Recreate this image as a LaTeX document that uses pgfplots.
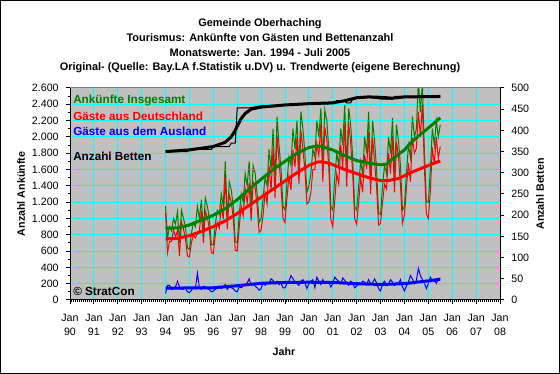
\documentclass[border=0pt]{standalone}
\usepackage{pgfplots}
\pgfplotsset{compat=1.18}
\usepackage{pgfplotstable}
\usepackage{fontspec}
\setmainfont{Liberation Sans}
\definecolor{plotgray}{RGB}{192,192,192}
\definecolor{gcyan}{RGB}{0,255,255}
\definecolor{xlgreen}{RGB}{0,128,0}
\definecolor{xlred}{RGB}{255,0,0}
\definecolor{xlblue}{RGB}{0,0,255}

% months since Jan 1990: m ; G = Ankuenfte gesamt, D = Deutschland, A = Ausland
\pgfplotstableread{
m G D A
48 1150 1070 80
49 760 580 180
50 900 720 180
51 850 720 130
52 1000 860 140
53 930 770 160
54 1080 850 230
55 700 540 160
56 1100 960 140
57 1000 870 130
58 900 750 150
59 640 540 100
60 620 530 90
61 820 700 120
62 950 800 150
63 900 760 140
64 1150 820 330
65 1000 850 150
66 1230 1100 130
67 870 700 170
68 1250 1090 160
69 1150 1010 140
70 1000 870 130
71 680 580 100
72 680 570 110
73 930 800 130
74 1100 950 150
75 1050 880 170
76 1300 1160 140
77 1150 990 160
78 1700 1510 190
79 1000 870 130
80 1450 1290 160
81 1350 1200 150
82 1150 1010 140
83 720 610 110
84 700 600 100
85 1050 890 160
86 1300 1150 150
87 1200 1030 170
88 1550 1360 190
89 1400 1190 210
90 1700 1440 260
91 1150 970 180
92 1650 1450 200
93 1550 1380 170
94 1300 1150 150
95 950 830 120
96 1000 860 140
97 1250 1040 210
98 1500 1320 180
99 1400 1180 220
100 1850 1650 200
101 1600 1340 260
102 2100 1860 240
103 1450 1250 200
104 2250 2020 230
105 1900 1710 190
106 1600 1390 210
107 1150 1000 150
108 1100 950 150
109 1450 1250 200
110 1750 1520 230
111 1650 1350 300
112 2100 1840 260
113 1850 1630 220
114 2200 2000 200
115 1600 1420 180
116 2310 2080 230
117 2100 1850 250
118 1800 1590 210
119 1320 1180 140
120 1400 1200 200
121 1550 1320 230
122 1850 1600 250
123 1750 1600 150
124 2200 1920 280
125 2000 1770 230
126 2350 2160 190
127 1700 1450 250
128 2330 2120 210
129 2200 1970 230
130 1850 1630 220
131 1150 990 160
132 1100 900 200
133 1500 1220 280
134 1800 1550 250
135 1650 1420 230
136 2100 1900 200
137 1900 1630 270
138 2390 2150 240
139 1600 1390 210
140 2350 2170 180
141 2150 1920 230
142 1750 1550 200
143 1150 1000 150
144 1100 930 170
145 1400 1190 210
146 1700 1500 200
147 1550 1320 230
148 2000 1780 220
149 1800 1610 190
150 2310 2060 250
151 1500 1300 200
152 2200 1990 210
153 1950 1690 260
154 1600 1390 210
155 1060 920 140
156 1050 940 110
157 1400 1200 200
158 1650 1420 230
159 1550 1360 190
160 2000 1800 200
161 1800 1550 250
162 2230 2010 220
163 1500 1320 180
164 2150 1940 210
165 1950 1750 200
166 1650 1400 250
167 1100 940 160
168 1150 1040 110
169 1550 1380 170
170 1900 1680 220
171 1750 1450 300
172 2250 1990 260
173 2000 1800 200
174 2100 1860 240
175 2700 2310 390
176 2300 2000 300
177 2650 2400 250
178 1850 1640 210
179 1200 1060 140
180 1200 1000 200
181 1600 1320 280
182 2100 1870 230
183 1900 1660 240
184 2200 2000 200
185 2000 1740 260
186 2150 1880 270
}\monthly

\pgfplotstableread{
m v
48 880
54 885
60 920
66 980
72 1040
78 1120
84 1230
90 1360
96 1480
102 1600
108 1700
114 1800
120 1870
124 1890
126 1885
132 1840
138 1770
144 1710
150 1680
153 1668
156 1660
159 1665
162 1730
168 1840
171 1925
176 2030
181 2130
186 2235
}\trendG

\pgfplotstableread{
m v
48 750
54 755
60 790
66 840
72 900
78 970
84 1060
90 1160
96 1260
102 1360
108 1460
114 1560
120 1650
124 1690
126 1695
130 1680
138 1600
144 1550
150 1500
156 1465
160 1465
165 1490
171 1560
176 1610
181 1660
186 1705
}\trendD

\pgfplotstableread{
m v
48 145
60 148
72 150
84 175
96 205
108 215
120 218
132 215
144 200
156 190
168 200
180 235
186 255
}\trendA

\pgfplotstableread{
m v
48 350
59 350
60 355
71 355
72 362
80 362
81 370
83 370
84 453
90 453
96 458
108 460
120 462
132 463
134 470
138 470
139 465
141 465
142 474
150 478
156 474
162 474
163 480
186 480
}\betten

\pgfplotstableread{
m v
48 350
60 354
72 362
78 372
81 385
83 400
84 410
86 428
88 440
91 450
96 455
108 460
120 463
132 465
138 470
144 477
150 479
156 478
162 476
168 479
186 480
}\bettenT

\begin{document}
\begin{tikzpicture}
\useasboundingbox (0,0) rectangle (420pt,280.5pt);
\draw[line width=0.75pt] (0.375pt,0.375pt) rectangle (419.625pt,280.125pt);

\pgfplotsset{
  every axis/.append style={
    at={(52.5pt,55.5pt)}, anchor=south west,
    scale only axis, width=322.5pt, height=159pt,
    xmin=0, xmax=216,
    tick label style={font=\fontsize{8}{10.5}\selectfont},
    /pgf/number format/assume math mode=true,
    /pgf/number format/1000 sep={.},
    scaled ticks=false,
  }
}

\begin{axis}[
  ymin=0, ymax=2600,
  axis x line=bottom, axis y line=left,
  axis line style={-, line width=0.75pt, black},
  axis background/.style={fill=plotgray},
  xtick={0,12,...,216},
  xticklabels={Jan\\90,Jan\\91,Jan\\92,Jan\\93,Jan\\94,Jan\\95,Jan\\96,Jan\\97,Jan\\98,Jan\\99,Jan\\00,Jan\\01,Jan\\02,Jan\\03,Jan\\04,Jan\\05,Jan\\06,Jan\\07,Jan\\08},
  xticklabel style={align=center, yshift=-4pt},
  minor x tick num=11,
  ytick={0,200,...,2600},
  minor y tick num=1,
  tick align=outside,
  major tick length=3pt,
  minor tick length=1.5pt,
  every tick/.style={black, line width=0.75pt},
  grid=major,
  major grid style={gcyan, line width=0.75pt},
  yticklabel style={xshift=-2pt},
]
\addplot[xlgreen, line width=0.75pt] table[x=m, y=G] {\monthly};
\addplot[xlred, line width=0.75pt] table[x=m, y=D] {\monthly};
\addplot[xlblue, line width=0.75pt] table[x=m, y=A] {\monthly};
\addplot[xlgreen, line width=2.25pt] table[x=m, y=v] {\trendG};
\addplot[xlred, line width=2.25pt] table[x=m, y=v] {\trendD};
\addplot[xlblue, line width=2.25pt] table[x=m, y=v] {\trendA};
\draw[gray, line width=0.75pt] (rel axis cs:0,1) -- (rel axis cs:1,1);
\end{axis}

\begin{axis}[
  ymin=0, ymax=500,
  axis x line=none, axis y line=right,
  axis line style={-, line width=0.75pt, black},
  ytick={0,50,...,500},
  tick align=outside,
  major tick length=3pt,
  every tick/.style={black, line width=0.75pt},
  yticklabel style={xshift=2pt},
]
\addplot[black, line width=0.75pt] table[x=m, y=v] {\betten};
\addplot[black, line width=2.25pt] table[x=m, y=v] {\bettenT};
\end{axis}

\begin{scope}[font=\bfseries\fontsize{8.2}{9}\selectfont]
\node at (195pt,263pt) {Gemeinde Oberhaching};
\node at (195pt,252.5pt) {Tourismus: Ankünfte von Gästen und Bettenanzahl};
\node at (195pt,241.2pt) {Monatswerte: Jan. 1994 - Juli 2005};
\node at (195pt,230pt) {Original- (Quelle: Bay.LA f.Statistik u.DV) u. Trendwerte (eigene Berechnung)};
\end{scope}
\begin{scope}[font=\bfseries\fontsize{8}{9}\selectfont]
\node[rotate=90] at (15.75pt,135pt) {Anzahl Ankünfte};
\node[rotate=90] at (405pt,135pt) {Anzahl Betten};
\node at (213pt,16.5pt) {Jahr};
\end{scope}
\begin{scope}[font=\bfseries\fontsize{8.8}{10}\selectfont, anchor=west, inner sep=0pt]
\node[xlgreen, anchor=west] at (54.75pt,205.5pt) {Ankünfte Insgesamt};
\node[xlred, anchor=west] at (54.75pt,193.5pt) {Gäste aus Deutschland};
\node[xlblue, anchor=west] at (54.75pt,181.7pt) {Gäste aus dem Ausland};
\node[black, anchor=west] at (54.75pt,163.5pt) {Anzahl Betten};
\node[black, anchor=west] at (54.75pt,62.25pt) {© StratCon};
\end{scope}
\end{tikzpicture}
\end{document}
